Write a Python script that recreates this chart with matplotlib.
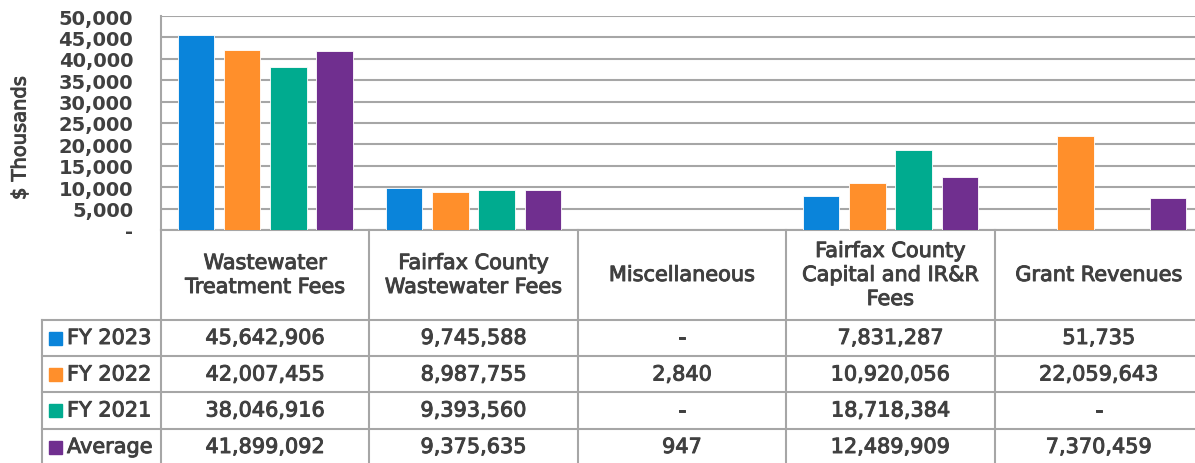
import matplotlib
matplotlib.use('Agg')
import matplotlib.pyplot as plt
import matplotlib.transforms as mtrans
import matplotlib.patheffects as pe
from matplotlib.patches import Rectangle
from matplotlib.lines import Line2D
import numpy as np

categories = ["Wastewater\nTreatment Fees", "Fairfax County\nWastewater Fees", "Miscellaneous",
              "Fairfax County\nCapital and IR&R\nFees", "Grant Revenues"]
series_names = ["FY 2023", "FY 2022", "FY 2021", "Average"]
fy2023 = [45642906, 9745588, 0, 7831287, 51735]
fy2022 = [42007455, 8987755, 2840, 10920056, 22059643]
fy2021 = [38046916, 9393560, 0, 18718384, 0]
average = [41899092, 9375635, 947, 12489909, 7370459]
series = [fy2023, fy2022, fy2021, average]
colors = ["#0A84DA", "#FF8F2B", "#00AB8F", "#702F8F"]
yticks = [0, 5000, 10000, 15000, 20000, 25000, 30000, 35000, 40000, 45000, 50000]

W, H = 1195, 464
TXT = "#404040"
LINE = "#A6A6A6"
fig = plt.figure(figsize=(W / 100, H / 100), dpi=100)
thick = [pe.withStroke(linewidth=0.7, foreground=TXT)]


def fx(x):
    return x / W


def fy(y):
    return 1 - y / H


ax = fig.add_axes([fx(161), fy(231), fx(1203) - fx(161), fy(17) - fy(231)])
n = len(categories)
centers = np.arange(n) + 0.5
step, width = 0.222, 0.175
for i, (vals, col) in enumerate(zip(series, colors)):
    ax.bar(centers + (i - 1.5) * step, np.array(vals) / 1000.0, width=width, color=col,
           edgecolor='white', linewidth=0.6, zorder=3)

ax.set_xlim(0, n)
ax.set_ylim(0, 50000)
ax.set_xticks([])
ax.set_yticks(yticks)
ax.set_yticklabels(["-" if t == 0 else f"{t:,}" for t in yticks], fontsize=14,
                   fontweight='bold', color=TXT, family='DejaVu Sans')
ax.tick_params(axis='y', length=0, pad=20)
ax.yaxis.grid(True, color=LINE, lw=1.5)
ax.set_axisbelow(True)
for s in ['top', 'right']:
    ax.spines[s].set_visible(False)
for s in ['left', 'bottom']:
    ax.spines[s].set_color(LINE)
    ax.spines[s].set_linewidth(1.5)

fig.text(fx(20), fy(139), "$ Thousands", rotation=90, ha='center', va='center',
         fontsize=14, color=TXT, path_effects=thick)

tb = mtrans.blended_transform_factory(ax.transData, fig.transFigure)

# table vertical lines
for xb in range(n + 1):
    ax.add_line(Line2D([xb, xb], [fy(231), fy(470)], transform=tb, color=LINE, lw=1.5,
                       clip_on=False))
# legend column left border
fig.add_artist(Line2D([fx(41.7), fx(41.7)], [fy(320.5), fy(470)], color=LINE, lw=1.5))
# horizontal row lines
row_lines = [320.5, 357, 393, 429.5]
for yl in row_lines:
    fig.add_artist(Line2D([fx(41.7), 1], [fy(yl), fy(yl)], color=LINE, lw=1.5))

# header text
for i, cat in enumerate(categories):
    ax.text(centers[i], fy(276), cat, transform=tb, ha='center', va='center', fontsize=15,
            color=TXT, linespacing=1.25, clip_on=False, path_effects=thick)

row_centers = [339, 375.5, 411.5, 448]
for r, (name, vals, col) in enumerate(zip(series_names, series, colors)):
    yc = row_centers[r]
    fig.add_artist(Rectangle((fx(49), fy(yc + 6.5)), fx(13), 13 / H, color=col,
                             transform=fig.transFigure))
    fig.text(fx(67), fy(yc), name, ha='left', va='center', fontsize=15, color=TXT,
             path_effects=thick)
    for i, v in enumerate(vals):
        ax.text(centers[i], fy(yc), f"{v:,}" if v else "-", transform=tb, ha='center',
                va='center', fontsize=15, color=TXT, clip_on=False, path_effects=thick)

fig.savefig("out.png", dpi=100)
